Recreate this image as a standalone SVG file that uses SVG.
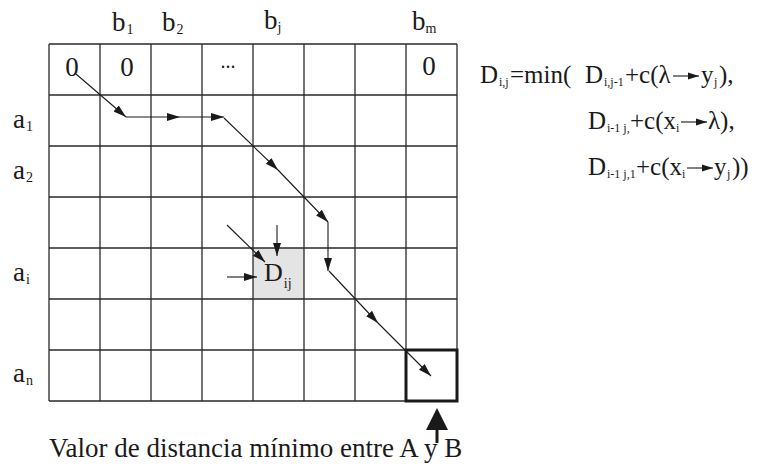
<svg xmlns="http://www.w3.org/2000/svg" width="764" height="466" viewBox="0 0 764 466" font-family="'Liberation Serif', Tinos, 'Times New Roman', 'DejaVu Serif', serif">
<defs>
<style>
text{font-family:"Liberation Serif",Tinos,"Times New Roman","DejaVu Serif",serif;fill:#1a1a1a}
.t{font-size:27px}
.f{font-size:25px}
.s{font-size:14px}
.fs{font-size:12px}
.g{stroke:#2a2a2a;stroke-width:1.3;fill:none}
.c{stroke:#1a1a1a;stroke-width:1.1;fill:none;marker-end:url(#ah)}
.fa{stroke:#1a1a1a;stroke-width:1.1;fill:none;marker-end:url(#fh)}
</style>
<marker id="ah" markerUnits="userSpaceOnUse" markerWidth="14" markerHeight="10" refX="13" refY="4" orient="auto" viewBox="0 0 14 8">
<path d="M0,0 L13,4 L0,8 Z" fill="#1a1a1a"/>
</marker>
<marker id="fh" markerUnits="userSpaceOnUse" markerWidth="12" markerHeight="8" refX="11" refY="3.5" orient="auto" viewBox="0 0 12 7">
<path d="M0,0 L11,3.5 L0,7 Z" fill="#1a1a1a"/>
</marker>
</defs>
<rect width="764" height="466" fill="#fff"/>

<g id="grid">
<rect x="253" y="248" width="51" height="51" fill="#e4e4e4"/>
<path class="g" d="M49,44H457M49,95H457M49,146H457M49,197H457M49,248H457M49,299H457M49,350H457M49,401H457"/>
<path class="g" d="M49,44V401M100,44V401M151,44V401M202,44V401M253,44V401M304,44V401M355,44V401M406,44V401M457,44V401"/>
<rect x="406" y="350" width="51" height="51" fill="none" stroke="#1a1a1a" stroke-width="3"/>
</g>

<g id="col-labels">
<text class="t" x="112" y="31">b<tspan class="s" dx="1" dy="3">1</tspan></text>
<text class="t" x="162" y="31">b<tspan class="s" dx="1" dy="3">2</tspan></text>
<text class="t" x="264" y="29">b<tspan class="s" dx="0" dy="3">j</tspan></text>
<text class="t" x="412" y="30">b<tspan class="s" dx="0" dy="3">m</tspan></text>
</g>

<g id="row-labels">
<text class="t" x="13" y="128">a<tspan class="s" dx="1" dy="3">1</tspan></text>
<text class="t" x="13" y="179">a<tspan class="s" dx="1" dy="3">2</tspan></text>
<text class="t" x="13" y="281">a<tspan class="s" dx="1" dy="3">i</tspan></text>
<text class="t" x="13" y="382">a<tspan class="s" dx="1" dy="3">n</tspan></text>
</g>

<g id="cells">
<text class="t" x="72" y="76" text-anchor="middle">0</text>
<text class="t" x="127" y="76" text-anchor="middle">0</text>
<text x="228" y="68" font-size="20" text-anchor="middle">...</text>
<text class="t" x="429" y="75" text-anchor="middle">0</text>
</g>

<g id="dij">
<text x="264" y="281" font-size="26">D<tspan class="s" dx="1" dy="7">ij</tspan></text>
</g>

<g id="connectors">
<path class="c" d="M76,74L126,117"/>
<path class="c" d="M126,117H180"/>
<path class="c" d="M180,117H224"/>
<path class="c" d="M224,118L278,170"/>
<path class="c" d="M278,170L328,222"/>
<path class="c" d="M328,222V271"/>
<path class="c" d="M329,271L378,323"/>
<path class="c" d="M378,323L431,376"/>
<path class="c" d="M227,225L265,262"/>
<path class="c" d="M277,225V256"/>
<path class="c" d="M227,277H257"/>
<polygon points="437,408 426,430 448,430" fill="#1a1a1a"/>
<line x1="437" y1="429" x2="437" y2="443" stroke="#1a1a1a" stroke-width="3"/>
</g>

<g id="formula">
<text class="f" x="480" y="83">D<tspan class="fs" x="499" dy="3">i,j</tspan><tspan x="510" dy="-3">=min(</tspan><tspan x="585">D</tspan><tspan class="fs" x="604" dy="3">i,j-1</tspan><tspan x="625" dy="-3">+c(λ</tspan><tspan x="701">y</tspan><tspan class="fs" x="714" dy="3">j</tspan><tspan x="719" dy="-3">),</tspan></text>
<path class="fa" d="M673,76H699"/>

<text class="f" x="588" y="129">D<tspan class="fs" x="607" dy="3">i-1 j,</tspan><tspan x="630" dy="-3">+c(x</tspan><tspan class="fs" x="676" dy="3">i</tspan><tspan x="708" dy="-3">λ),</tspan></text>
<path class="fa" d="M681,122H707"/>

<text class="f" x="588" y="175">D<tspan class="fs" x="607" dy="3">i-1 j,1</tspan><tspan x="636" dy="-3">+c(x</tspan><tspan class="fs" x="682" dy="3">i</tspan><tspan x="714" dy="-3">y</tspan><tspan class="fs" x="727" dy="3">j</tspan><tspan x="732" dy="-3">))</tspan></text>
<path class="fa" d="M687,168H713"/>
</g>

<g id="caption">
<text class="t" x="49" y="457">Valor de distancia mínimo entre A y B</text>
</g>
</svg>
